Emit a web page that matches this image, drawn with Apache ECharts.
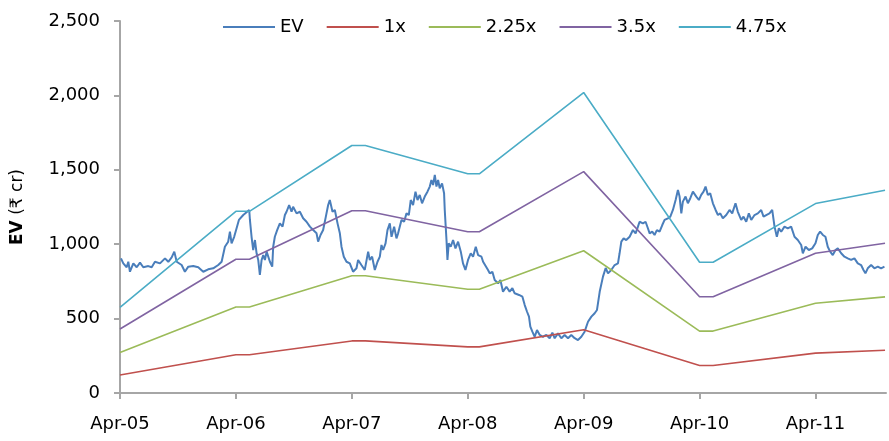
<!DOCTYPE html>
<html>
<head>
<meta charset="utf-8">
<script src="https://cdn.jsdelivr.net/npm/echarts@6/dist/echarts.min.js"></script>
<style>
  html, body { margin: 0; padding: 0; background: #fff; }
  #chart { width: 889px; height: 441px; }
</style>
</head>
<body>
<div id="chart"></div>
<script>
// x values are months counted from Apr-05
var xLabels = ['Apr-05', 'Apr-06', 'Apr-07', 'Apr-08', 'Apr-09', 'Apr-10', 'Apr-11'];
var xTicks = [0, 12, 24, 36, 48, 60, 72];
var seriesNames = ['EV', '1x', '2.25x', '3.5x', '4.75x'];

var evPoints = [[0.1,905],[0.34,871],[0.69,845],[0.86,882],[1.03,815],[1.38,871],[1.73,845],[2.07,876],[2.41,845],[2.93,853],[3.28,845],[3.62,882],[4.14,871],[4.66,905],[5.0,882],[5.35,911],[5.62,950],[5.87,882],[6.38,860],[6.72,815],[7.07,849],[7.58,853],[8.1,845],[8.62,815],[9.13,831],[9.65,838],[10.17,860],[10.52,882],[10.86,983],[11.2,1017],[11.38,1084],[11.55,1006],[11.82,1050],[12.07,1107],[12.31,1163],[12.76,1196],[13.38,1230],[13.45,1163],[13.62,1050],[13.79,961],[13.97,1028],[14.14,939],[14.31,894],[14.48,793],[14.66,894],[14.83,927],[15.0,894],[15.18,950],[15.52,882],[15.76,849],[15.86,983],[16.03,1050],[16.27,1095],[16.55,1140],[16.83,1118],[17.07,1196],[17.24,1218],[17.51,1263],[17.76,1218],[17.92,1252],[18.28,1207],[18.62,1218],[18.96,1174],[19.31,1151],[19.66,1118],[20.0,1095],[20.35,1073],[20.51,1017],[20.76,1062],[21.03,1095],[21.31,1185],[21.55,1263],[21.72,1297],[22.0,1218],[22.24,1230],[22.52,1140],[22.76,1073],[22.93,983],[23.17,916],[23.45,882],[23.79,871],[24.13,815],[24.48,838],[24.65,894],[24.99,860],[25.34,827],[25.69,950],[25.86,894],[26.1,916],[26.38,827],[26.66,882],[26.9,916],[27.07,995],[27.24,961],[27.49,1006],[27.69,1095],[27.93,1140],[28.11,1050],[28.38,1118],[28.62,1039],[28.79,1073],[29.14,1163],[29.41,1151],[29.66,1207],[29.9,1196],[30.1,1297],[30.34,1263],[30.59,1353],[30.8,1297],[31.03,1331],[31.27,1275],[31.55,1320],[31.83,1353],[32.07,1387],[32.24,1431],[32.41,1398],[32.59,1465],[32.76,1387],[32.93,1431],[33.1,1376],[33.34,1409],[33.55,1342],[33.62,1230],[33.72,1118],[33.8,1028],[33.9,894],[34.03,1006],[34.24,983],[34.48,1028],[34.73,972],[35.0,1017],[35.28,950],[35.51,871],[35.76,827],[36.03,894],[36.31,939],[36.55,916],[36.83,983],[37.07,927],[37.42,916],[37.59,882],[37.76,871],[38.1,827],[38.28,804],[38.55,815],[38.79,759],[39.14,737],[39.38,759],[39.65,681],[40.0,714],[40.34,681],[40.62,704],[40.86,670],[41.31,659],[41.66,647],[41.9,591],[42.14,546],[42.34,513],[42.48,446],[42.69,412],[42.93,378],[43.17,423],[43.45,390],[43.79,378],[44.14,390],[44.48,368],[44.76,405],[45.0,368],[45.34,401],[45.69,368],[46.03,390],[46.38,368],[46.72,390],[47.07,368],[47.41,356],[47.76,378],[48.1,412],[48.45,479],[48.8,513],[49.14,536],[49.38,558],[49.66,680],[50.0,782],[50.28,840],[50.52,804],[50.86,827],[51.21,860],[51.55,871],[51.72,939],[51.9,1017],[52.14,1039],[52.41,1028],[52.76,1050],[53.1,1095],[53.38,1073],[53.62,1118],[53.79,1151],[54.14,1140],[54.41,1151],[54.65,1107],[54.83,1073],[55.1,1084],[55.34,1062],[55.58,1095],[55.86,1084],[56.14,1129],[56.38,1163],[56.72,1174],[56.97,1185],[57.24,1230],[57.52,1297],[57.76,1364],[57.93,1320],[58.11,1207],[58.27,1286],[58.55,1320],[58.79,1275],[59.04,1309],[59.31,1353],[59.66,1320],[59.93,1297],[60.17,1331],[60.41,1353],[60.62,1387],[60.86,1331],[61.1,1342],[61.38,1275],[61.66,1230],[61.9,1196],[62.14,1207],[62.41,1174],[62.76,1196],[63.1,1230],[63.38,1207],[63.72,1275],[63.96,1218],[64.14,1230],[64.31,1163],[64.55,1185],[64.83,1151],[65.1,1207],[65.35,1163],[65.69,1196],[66.03,1207],[66.38,1230],[66.62,1185],[66.9,1196],[67.24,1207],[67.52,1230],[67.76,1118],[68.0,1050],[68.21,1107],[68.45,1084],[68.79,1118],[69.13,1107],[69.48,1118],[69.83,1050],[70.17,1028],[70.52,995],[70.69,939],[70.97,983],[71.31,961],[71.66,972],[72.0,1006],[72.24,1062],[72.48,1084],[72.76,1062],[73.03,1050],[73.27,983],[73.52,950],[73.79,927],[74.07,961],[74.31,972],[74.66,939],[75.0,916],[75.34,905],[75.69,894],[76.03,905],[76.38,871],[76.72,860],[76.97,827],[77.17,804],[77.41,838],[77.76,860],[78.1,838],[78.45,849],[78.79,838],[79.14,849]];

// band corner points (months from Apr-05)
var bandMonths = [0, 12, 13.4, 24, 25.4, 36, 37.2, 48, 60, 61.4, 72, 79.2];
var band1x   = [121, 257, 257, 350, 350, 310, 310, 425, 185, 185, 268, 287];
var band225x = [272, 578, 578, 788, 788, 697, 697, 956, 416, 416, 603, 646];
var band35x  = [430, 899, 899, 1225, 1225, 1084, 1084, 1488, 647, 647, 939, 1006];
var band475x = [576, 1221, 1221, 1663, 1663, 1473, 1473, 2019, 879, 879, 1273, 1363];

var colors = ['#4a7ebb', '#c0504d', '#9bbb59', '#8064a2', '#4bacc6'];
var fontFam = 'DejaVu Sans';

function pairUp(xs, ys) {
    var out = [];
    for (var i = 0; i < xs.length; i++) {
        out.push([xs[i], ys[i]]);
    }
    return out;
}

var bands = [band1x, band225x, band35x, band475x];
var series = [{
    name: seriesNames[0],
    type: 'line',
    data: evPoints,
    showSymbol: false,
    symbol: 'none',
    lineStyle: { width: 2, color: colors[0] },
    itemStyle: { color: colors[0] }
}];
for (var b = 0; b < bands.length; b++) {
    series.push({
        name: seriesNames[b + 1],
        type: 'line',
        data: pairUp(bandMonths, bands[b]),
        showSymbol: false,
        symbol: 'none',
        lineStyle: { width: 1.6, color: colors[b + 1] },
        itemStyle: { color: colors[b + 1] }
    });
}

var myChart = echarts.init(document.getElementById('chart'));
var option = {
    animation: false,
    backgroundColor: '#fff',
    color: colors,
    textStyle: { fontFamily: fontFam },
    legend: {
        data: seriesNames,
        left: 218,
        top: 13,
        icon: 'rect',
        itemWidth: 52,
        itemHeight: 2,
        itemGap: 23,
        textStyle: { fontFamily: fontFam, fontSize: 18, color: '#000' }
    },
    grid: {
        left: 120,
        right: 3,
        top: 21,
        bottom: 48,
        containLabel: false
    },
    xAxis: {
        type: 'value',
        min: 0,
        max: 79.3,
        interval: 12,
        splitLine: { show: false },
        axisLine: { lineStyle: { color: '#a6a6a6', width: 2 } },
        axisTick: { show: true, length: 6, lineStyle: { color: '#a6a6a6', width: 2 }, customValues: xTicks },
        axisLabel: {
            customValues: xTicks,
            margin: 22,
            fontFamily: fontFam,
            fontSize: 18,
            color: '#000',
            formatter: function (v) {
                var k = Math.round(v / 12);
                return xLabels[k] || '';
            }
        }
    },
    yAxis: {
        type: 'value',
        min: 0,
        max: 2500,
        interval: 500,
        name: '{b|EV} (₹ cr)',
        nameLocation: 'middle',
        nameGap: 94,
        nameRotate: 90,
        nameTextStyle: {
            fontFamily: fontFam,
            fontSize: 17,
            color: '#000',
            rich: { b: { fontWeight: 'bold', fontSize: 17, fontFamily: fontFam } }
        },
        splitLine: { show: false },
        axisLine: { show: true, lineStyle: { color: '#a6a6a6', width: 2 } },
        axisTick: { show: true, length: 6, lineStyle: { color: '#a6a6a6', width: 2 } },
        axisLabel: {
            margin: 20,
            fontFamily: fontFam,
            fontSize: 18,
            color: '#000',
            formatter: function (v) {
                return v.toLocaleString('en-US');
            }
        }
    },
    series: series
};
myChart.setOption(option);
</script>
</body>
</html>
